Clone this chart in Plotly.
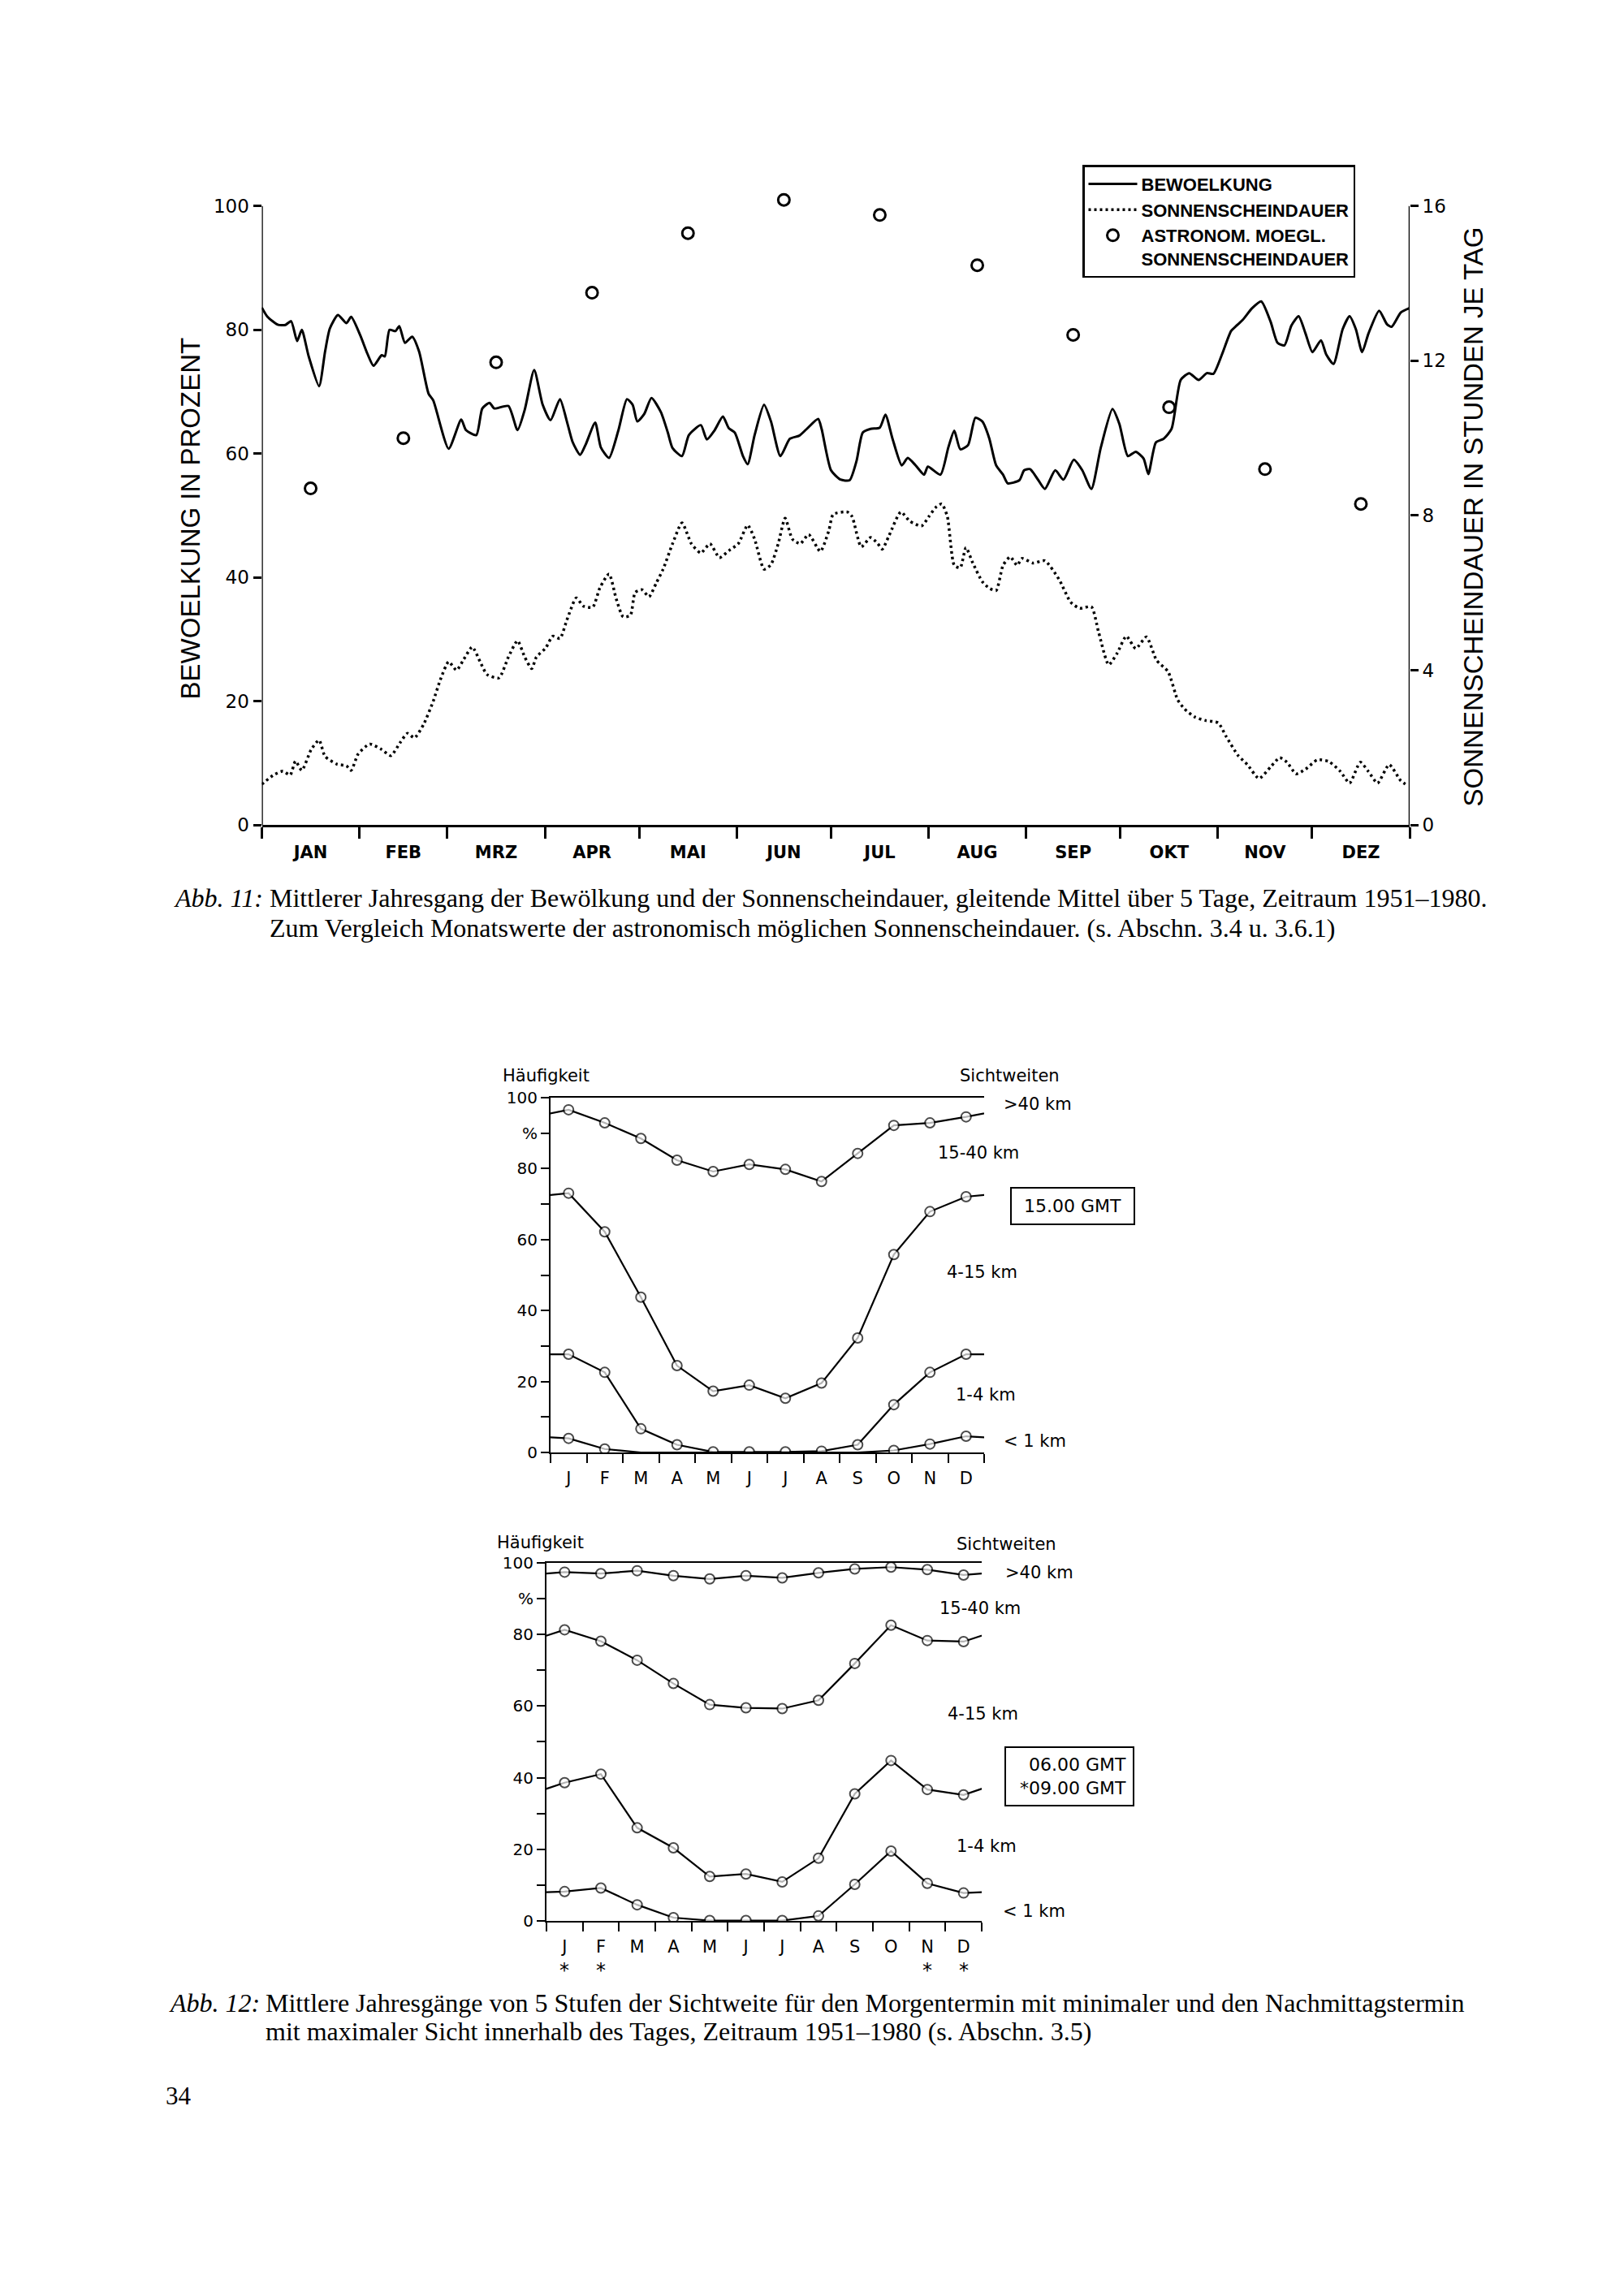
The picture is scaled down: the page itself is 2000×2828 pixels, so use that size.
import plotly.graph_objects as go

# ---------------- data: Abb. 11 ----------------
MONTHS_TOP = ["JAN", "FEB", "MRZ", "APR", "MAI", "JUN", "JUL", "AUG", "SEP", "OKT", "NOV", "DEZ"]
MONTH_DAYS = [31, 28, 31, 30, 31, 30, 31, 31, 30, 31, 30, 31]

CLOUD_DAY = [0.0, 1.8, 5.2, 7.5, 9.3, 11.2, 12.7, 14.9, 18.2, 20.1, 21.6, 24.2, 26.9, 28.4,
             31.3, 33.6, 35.5, 38.1, 39.1, 40.6, 42.5, 43.7, 45.5, 47.8, 50.0, 53.0, 54.5,
             59.4, 63.4, 64.9, 68.2, 70.1, 72.4, 73.9, 78.4, 81.3, 83.6, 86.6, 89.3, 91.8,
             94.8, 97.0, 98.8, 101.2, 103.0, 106.0, 107.8, 110.4, 113.4, 116.1, 117.9, 119.4,
             121.6, 123.9, 126.9, 129.1, 130.6, 133.6, 135.8, 139.6, 141.5, 144.0, 146.6,
             148.5, 150.4, 153.0, 154.5, 156.7, 159.7, 161.9, 164.9, 167.9, 170.9, 173.1,
             176.9, 178.0, 181.0, 184.0, 186.9, 189.1, 191.1, 193.6, 196.5, 198.3, 200.5,
             203.5, 205.4, 207.9, 210.6, 211.8, 215.8, 218.3, 220.2, 222.1, 224.6, 226.9,
             229.1, 231.3, 233.5, 235.7, 237.2, 240.9, 242.4, 244.3, 246.8, 249.0, 252.3,
             254.9, 258.2, 260.9, 263.8, 266.8, 270.5, 272.7, 275.4, 277.9, 280.4, 281.9,
             284.3, 286.8, 289.3, 292.2, 294.9, 297.9, 300.5, 302.6, 305.3, 308.2, 310.0,
             311.9, 314.9, 317.8, 320.8, 323.0, 325.2, 327.4, 329.7, 331.9, 334.1, 336.8,
             338.5, 340.8, 343.7, 345.9, 347.9, 349.9, 351.9, 355.3, 357.8, 359.3, 362.2,
             364.9]
CLOUD_PCT = [83.6, 82.1, 80.8, 80.8, 81.4, 78.2, 80.0, 75.7, 70.9, 76.5, 80.2, 82.4, 81.1, 82.1,
             79.1, 76.1, 74.2, 75.9, 75.7, 80.0, 79.8, 80.6, 77.9, 78.9, 76.5, 69.7, 68.6,
             60.8, 65.5, 63.8, 63.0, 67.3, 68.2, 67.3, 67.7, 63.8, 67.1, 73.5, 67.9, 65.4,
             68.8, 65.2, 61.9, 59.8, 61.5, 65.0, 61.0, 59.3, 63.8, 68.8, 67.9, 65.2,
             66.4, 69.0, 66.7, 63.4, 60.9, 59.6, 63.0, 64.6, 62.3, 63.8, 66.0,
             64.1, 63.4, 59.6, 58.3, 63.0, 67.9, 65.2, 59.6, 62.4, 62.9, 63.9,
             65.6, 64.0, 57.3, 55.8, 55.7, 58.8, 63.4, 64.0, 64.2, 66.3, 62.5,
             58.1, 59.3, 58.1, 56.6, 57.9, 56.6, 61.0, 63.7, 60.7, 61.4, 65.8,
             65.2, 62.5, 58.1, 56.6, 55.2, 55.7, 57.3, 57.5, 55.8, 54.3, 57.3,
             55.8, 59.0, 57.3, 54.3, 61.0, 67.2, 64.8, 59.6, 60.3, 59.2, 56.7,
             61.8, 62.4, 64.0, 71.9, 73.0, 71.9, 73.0, 72.9, 76.0, 79.8, 80.7,
             81.6, 83.5, 84.6, 81.3, 77.9, 77.5, 80.7, 82.2, 79.4, 76.4, 78.3,
             76.0, 74.5, 80.1, 82.2, 80.1, 76.4, 79.4, 83.1, 80.9, 80.5, 82.8,
             83.5]

SUN_DAY = [0.0, 3.7, 6.7, 9.0, 10.7, 12.7, 15.7, 18.2, 20.1, 23.9, 26.9, 28.4, 30.6, 34.3,
           38.1, 41.0, 44.0, 46.3, 48.5, 51.5, 54.5, 56.7, 59.4, 61.9, 64.2, 66.9, 69.4,
           71.6, 75.4, 78.4, 81.3, 83.6, 85.8, 87.3, 90.3, 92.5, 94.8, 97.0, 100.0, 102.2,
           105.2, 107.5, 110.4, 112.7, 114.9, 117.2, 118.7, 120.9, 123.1, 125.4, 127.6,
           130.6, 133.6, 136.6, 139.6, 142.5, 145.5, 148.5, 151.5, 154.5, 156.7, 159.7,
           161.9, 164.2, 166.4, 168.7, 171.2, 173.9, 177.6, 180.3, 181.7, 186.2, 187.7,
           190.6, 193.6, 195.8, 197.3, 199.5, 203.2, 206.1, 209.8, 212.1, 214.3, 216.2,
           218.0, 220.2, 222.1, 223.9, 226.1, 229.1, 231.3, 233.5, 235.7, 238.0, 240.2,
           241.7, 245.3, 249.0, 253.5, 257.2, 260.1, 263.8, 266.1, 269.3, 272.0, 274.9,
           277.9, 281.3, 284.5, 288.2, 291.2, 293.4, 296.7, 300.1, 304.1, 306.7, 310.4,
           313.4, 317.1, 320.8, 323.7, 326.0, 328.9, 331.9, 335.6, 339.3, 343.0, 345.9,
           349.3, 351.9, 354.8, 358.5, 362.2, 364.4]
SUN_HOURS = [1.05, 1.29, 1.39, 1.29, 1.65, 1.41, 1.95, 2.19, 1.77, 1.57, 1.53, 1.41, 1.83, 2.09,
             1.95, 1.79, 2.13, 2.37, 2.25, 2.61, 3.20, 3.74, 4.22, 4.00, 4.28, 4.60, 4.22,
             3.89, 3.80, 4.34, 4.76, 4.34, 4.04, 4.34, 4.58, 4.88, 4.82, 5.30, 5.87, 5.66,
             5.63, 6.13, 6.49, 5.84, 5.38, 5.42, 6.01, 6.08, 5.90, 6.25, 6.61,
             7.27, 7.81, 7.27, 7.03, 7.27, 6.91, 7.09, 7.27, 7.75, 7.39, 6.61,
             6.73, 7.27, 7.93, 7.39, 7.27, 7.51, 7.07, 7.61, 8.03, 8.09, 7.97,
             7.19, 7.43, 7.28, 7.13, 7.49, 8.09, 7.85, 7.73, 7.97, 8.21, 8.30,
             7.97, 6.71, 6.65, 7.17, 6.77, 6.29, 6.12, 6.06, 6.71, 6.93, 6.71,
             6.89, 6.77, 6.83, 6.35, 5.76, 5.60, 5.64, 4.98, 4.14, 4.44, 4.88,
             4.56, 4.86, 4.26, 3.96, 3.24, 3.00, 2.79, 2.70, 2.64, 2.28, 1.80,
             1.56, 1.20, 1.50, 1.74, 1.62, 1.32, 1.44, 1.68, 1.64, 1.38, 1.08,
             1.62, 1.38, 1.08, 1.56, 1.14, 1.02]

ASTRO_HOURS = [8.7, 10.0, 11.96, 13.76, 15.3, 16.16, 15.77, 14.47, 12.67, 10.8, 9.2, 8.3]

# ---------------- data: Abb. 12 ----------------
MONTHS_VIS = ["J", "F", "M", "A", "M", "J", "J", "A", "S", "O", "N", "D"]
STAR_MONTHS = [0, 1, 10, 11]          # months with 09.00 GMT instead of 06.00 GMT

# 15.00 GMT – cumulative class limits (%)
PM_LIMIT_40 = [96.6, 92.9, 88.5, 82.4, 79.2, 81.2, 79.8, 76.4, 84.3, 92.2, 92.9, 94.6]
PM_LIMIT_15 = [73.1, 62.2, 43.8, 24.5, 17.3, 19.0, 15.3, 19.6, 32.3, 55.8, 67.9, 72.1]
PM_LIMIT_4 = [27.7, 22.6, 6.7, 2.2, 0.2, 0.2, 0.2, 0.4, 2.2, 13.5, 22.6, 27.7]
PM_LIMIT_1 = [4.0, 1.0, 0.0, 0.0, 0.0, 0.0, 0.0, 0.0, 0.0, 0.6, 2.4, 4.6]

# 06.00 GMT (* 09.00 GMT) – cumulative class limits (%)
AM_LIMIT_40 = [97.4, 97.0, 97.8, 96.4, 95.5, 96.4, 95.8, 97.2, 98.3, 98.8, 98.1, 96.6]
AM_LIMIT_15 = [81.3, 78.1, 72.8, 66.3, 60.4, 59.5, 59.3, 61.6, 71.9, 82.6, 78.3, 78.0]
AM_LIMIT_4 = [38.6, 41.0, 26.0, 20.4, 12.4, 13.1, 10.9, 17.5, 35.5, 44.8, 36.7, 35.2]
AM_LIMIT_1 = [8.2, 9.2, 4.5, 0.9, 0.1, 0.1, 0.1, 1.4, 10.2, 19.5, 10.5, 7.8]

CLASS_LABELS = ["&gt;40 km", "15-40 km", "4-15 km", "1-4 km", "&lt; 1 km"]

# ---------------- helpers ----------------
W, H = 2000, 2828


def px(x):
    return x / W


def py(y):
    return 1 - y / H


bounds = [0]
for d in MONTH_DAYS:
    bounds.append(bounds[-1] + d)
mids = [(bounds[i] + bounds[i + 1]) / 2 for i in range(12)]

TXT = "DejaVu Sans"
SANS = "Liberation Sans"
SERIF = "Liberation Serif"
fig = go.Figure()

# ---------------- Abb. 11 traces ----------------
fig.add_trace(go.Scatter(x=CLOUD_DAY, y=CLOUD_PCT, mode="lines", name="BEWOELKUNG",
                         line=dict(color="black", width=3, shape="spline", smoothing=0.6),
                         xaxis="x", yaxis="y"))
fig.add_trace(go.Scatter(x=SUN_DAY, y=SUN_HOURS, mode="lines", name="SONNENSCHEINDAUER",
                         line=dict(color="black", width=3.5, dash="3px,4px", shape="spline",
                                   smoothing=0.6),
                         xaxis="x", yaxis="y2"))
fig.add_trace(go.Scatter(x=mids, y=ASTRO_HOURS, mode="markers",
                         name="ASTRONOM. MOEGL.<br>SONNENSCHEINDAUER",
                         marker=dict(symbol="circle-open", size=14, color="black",
                                     line=dict(width=3)),
                         cliponaxis=False, xaxis="x", yaxis="y2"))

# ---------------- Abb. 12 traces ----------------
vis_x = [-0.5] + [i + 0.5 for i in range(12)] + [12.5]


def add_limit(vals, xa, ya):
    y_ext = [vals[-1]] + list(vals) + [vals[0]]
    sizes = [0] + [12 if v > 0 else 0 for v in vals] + [0]
    fig.add_trace(go.Scatter(x=vis_x, y=y_ext, mode="lines+markers", showlegend=False,
                             line=dict(color="black", width=2.2),
                             marker=dict(symbol="circle", size=sizes, color="white",
                                         line=dict(color="black", width=2)),
                             xaxis=xa, yaxis=ya))


for series in (PM_LIMIT_40, PM_LIMIT_15, PM_LIMIT_4, PM_LIMIT_1):
    add_limit(series, "x3", "y3")
for series in (AM_LIMIT_40, AM_LIMIT_15, AM_LIMIT_4, AM_LIMIT_1):
    add_limit(series, "x4", "y4")

# ---------------- axes ----------------
ax_common = dict(showgrid=False, zeroline=False, linecolor="black", tickcolor="black")

# top chart: 0 % at y=1013 px, 100 % at y=244 px; range extended a little above 100
TOP_Y0, TOP_Y100 = 1013, 244
TOP_MAX = 102.0
top_px_per_unit = (TOP_Y0 - TOP_Y100) / 100.0
top_dom_top = TOP_Y0 - TOP_MAX * top_px_per_unit
SUN_SCALE = 16.0 / 100.0

fig.update_layout(
    xaxis=dict(**ax_common, showline=True, domain=[px(322.5), px(1736)], range=[0, 365],
               anchor="y", linewidth=2.5, tickmode="array", tickvals=mids,
               ticktext=MONTHS_TOP, ticks="", ticklabelstandoff=13,
               tickfont=dict(family=TXT, size=21, color="black", weight="bold"),
               minor=dict(tickmode="array", tickvals=bounds, ticks="outside", ticklen=14,
                          tickwidth=2.5, tickcolor="black")),
    yaxis=dict(**ax_common, showline=False, domain=[py(TOP_Y0), py(top_dom_top)],
               range=[0, TOP_MAX], anchor="x", tickmode="array",
               tickvals=[0, 20, 40, 60, 80, 100], ticks="outside", ticklen=10, tickwidth=2.5,
               tickfont=dict(family=TXT, size=23, color="black")),
    yaxis2=dict(**ax_common, showline=False, overlaying="y", side="right",
                range=[0, TOP_MAX * SUN_SCALE], anchor="x", tickmode="array",
                tickvals=[0, 4, 8, 12, 16], ticks="outside", ticklen=10, tickwidth=2.5,
                tickfont=dict(family=TXT, size=23, color="black")),
)

shapes = [
    dict(type="line", xref="x", yref="y", x0=0, x1=0, y0=0, y1=100,
         line=dict(color="black", width=2.5)),
    dict(type="line", xref="x", yref="y2", x0=365, x1=365, y0=0, y1=16,
         line=dict(color="black", width=2.5)),
]

vis_ticktext = [str(v) if v % 20 == 0 else ("%" if v == 90 else "") for v in range(0, 101, 10)]


def vis_axes(xdom, ydom, ya, xa):
    xa_d = dict(**ax_common, showline=True, domain=xdom, range=[0, 12], anchor=ya,
                linewidth=2.2, mirror=True, tickmode="array",
                tickvals=[i + 0.5 for i in range(12)], ticktext=MONTHS_VIS, ticks="",
                ticklabelstandoff=12, tickfont=dict(family=TXT, size=21, color="black"),
                minor=dict(tickmode="array", tickvals=list(range(13)), ticks="outside",
                           ticklen=11, tickwidth=2, tickcolor="black"))
    ya_d = dict(**ax_common, showline=True, domain=ydom, range=[0, 100], anchor=xa,
                linewidth=2.2, tickmode="array", tickvals=list(range(0, 101, 10)),
                ticktext=vis_ticktext, ticks="outside", ticklen=10, tickwidth=2,
                tickfont=dict(family=TXT, size=20, color="black"))
    return xa_d, ya_d


x3, y3 = vis_axes([px(678), px(1212)], [py(1793), py(1352)], "y3", "x3")
x4, y4 = vis_axes([px(673), px(1209)], [py(2375), py(1930)], "y4", "x4")
fig.update_layout(xaxis3=x3, yaxis3=y3, xaxis4=x4, yaxis4=y4)

# ---------------- annotations ----------------
ann = []


def text(x, y, s, size, family=TXT, xanchor="left", angle=0, bold=False, **kw):
    ann.append(dict(x=px(x), y=py(y), xref="paper", yref="paper", text=s, showarrow=False,
                    xanchor=xanchor, yanchor="middle", textangle=angle,
                    font=dict(family=family, size=size, color="black",
                              weight="bold" if bold else "normal"), **kw))


text(234, 632, "BEWOELKUNG IN PROZENT", 33, family=SANS, xanchor="center", angle=-90)
text(1814, 630, "SONNENSCHEINDAUER IN STUNDEN JE TAG", 33, family=SANS, xanchor="center",
     angle=-90)

# captions
text(212, 1104, "<i>Abb. 11:</i>", 32, family=SERIF)
text(330, 1104, "Mittlerer Jahresgang der Bewölkung und der Sonnenscheindauer, gleitende Mittel "
                "über 5 Tage, Zeitraum 1951–1980.", 32, family=SERIF)
text(330, 1141, "Zum Vergleich Monatswerte der astronomisch möglichen Sonnenscheindauer. "
                "(s. Abschn. 3.4 u. 3.6.1)", 32, family=SERIF)
text(206, 2477, "<i>Abb. 12:</i>", 32, family=SERIF)
text(325, 2477, "Mittlere Jahresgänge von 5 Stufen der Sichtweite für den Morgentermin mit "
                "minimaler und den Nachmittagstermin", 32, family=SERIF)
text(325, 2512, "mit maximaler Sicht innerhalb des Tages, Zeitraum 1951–1980 (s. Abschn. 3.5)",
     32, family=SERIF)
text(220, 2592, "34", 31, family=SERIF, xanchor="center")

# Abb. 12 labels – 15.00 GMT
text(617, 1325, "Häufigkeit", 21)
text(1180, 1325, "Sichtweiten", 21)
for lab, (lx, ly) in zip(CLASS_LABELS, [(1234, 1360), (1153, 1421), (1164, 1569),
                                        (1175, 1721), (1234, 1779)]):
    text(lx, ly, lab, 21)
text(1321, 1487, "15.00 GMT", 22, xanchor="center", bordercolor="black", borderwidth=2,
     borderpad=9, width=132, bgcolor="white")

# Abb. 12 labels – 06.00 GMT
text(610, 1905, "Häufigkeit", 21)
text(1176, 1907, "Sichtweiten", 21)
for lab, (lx, ly) in zip(CLASS_LABELS, [(1236, 1942), (1155, 1987), (1165, 2118),
                                        (1176, 2282), (1233, 2363)]):
    text(lx, ly, lab, 21)
text(1317, 2195, "06.00 GMT<br>*09.00 GMT", 22, xanchor="center", bordercolor="black",
     borderwidth=2, borderpad=8, width=140, align="right", bgcolor="white")

# asterisks (09.00 GMT months) below the month letters of the 06.00 chart
for m in STAR_MONTHS:
    ann.append(dict(x=m + 0.5, y=py(2437), xref="x4", yref="paper", text="*",
                    showarrow=False, xanchor="center", yanchor="middle",
                    font=dict(family=TXT, size=24, color="black")))

fig.update_layout(
    annotations=ann,
    shapes=shapes,
    width=W, height=H, autosize=False,
    margin=dict(l=0, r=0, t=0, b=0),
    paper_bgcolor="white", plot_bgcolor="rgba(0,0,0,0)",
    font=dict(family=TXT, color="black"),
    showlegend=True,
    legend=dict(x=px(1333), y=py(193), xanchor="left", yanchor="top",
                bordercolor="black", borderwidth=2.5, bgcolor="white",
                font=dict(family=SANS, size=22, color="black", weight="bold"),
                itemwidth=60, valign="top", tracegroupgap=0),
)

fig.write_html("out.html", config={"displayModeBar": False},
               post_script="document.body.style.margin='0px';")
